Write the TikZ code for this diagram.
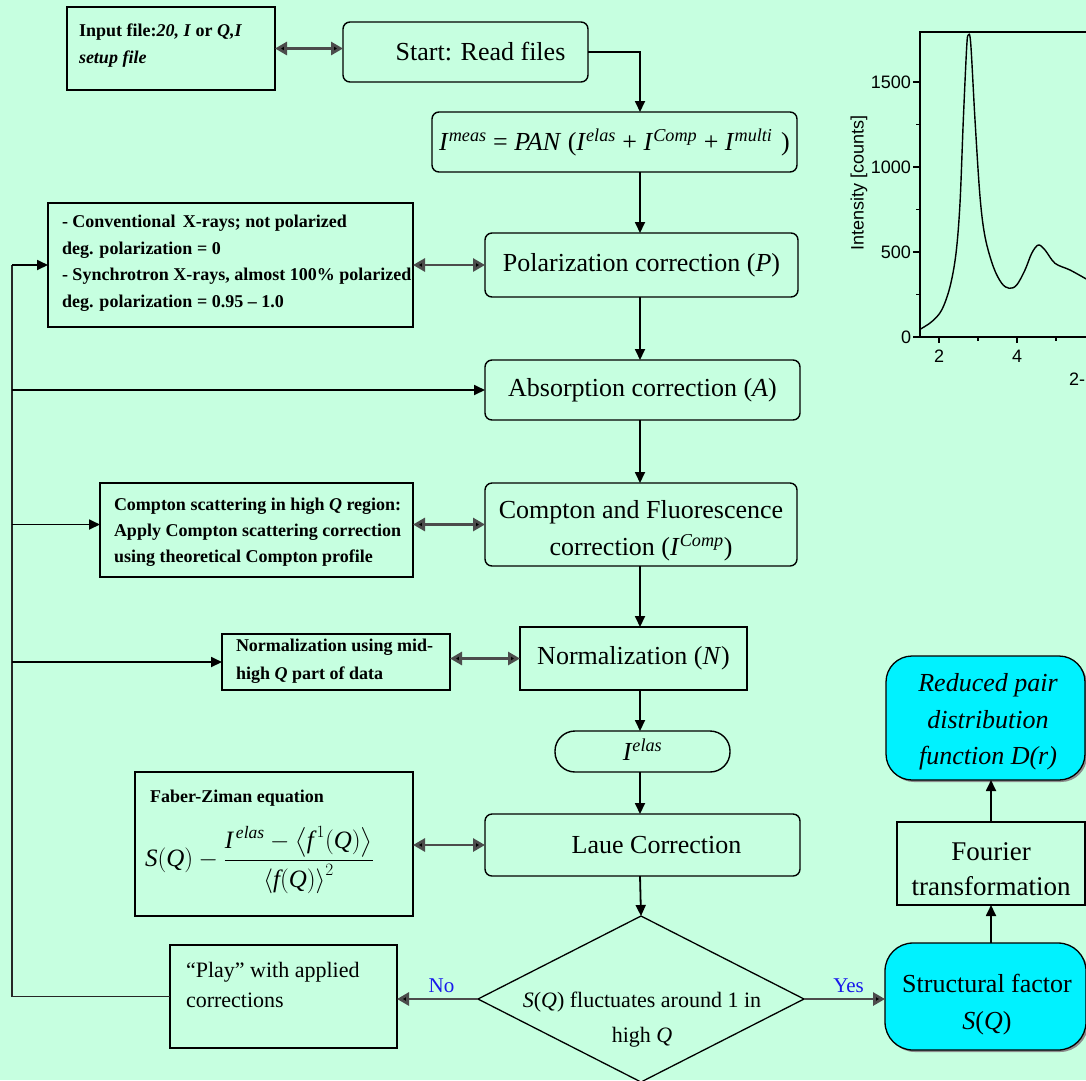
\documentclass[tikz,border=0pt]{standalone}
\usepackage{fontspec}
\setmainfont{Liberation Serif}
\newfontfamily\chartfont{Liberation Sans}
\usepackage{amsmath}
\usetikzlibrary{arrows.meta,shapes.geometric,shadows}
\definecolor{bgmint}{RGB}{198,255,224}
\definecolor{cyanbox}{RGB}{0,242,255}
\definecolor{labblue}{RGB}{25,25,235}
\newcommand\fsz[2]{\fontsize{#1}{#2}\selectfont}
\newcommand\Isup[1]{\textit{I}\textsuperscript{\textit{#1}}}
\begin{document}
\begin{tikzpicture}[x=1pt,y=-1pt,
  every node/.style={inner sep=0pt, outer sep=0pt},
  rbox/.style={draw=black, line width=1.4pt, rounded corners=7pt, font=\fsz{26}{32}},
  sbox/.style={draw=black, line width=1.8pt},
  notetxt/.style={anchor=north west, align=left, font=\fsz{18}{26.5}\bfseries},
  arr/.style={line width=1.8pt, draw=black, -{Triangle[length=11pt,width=10pt]}},
  darr/.style={line width=2.8pt, draw=black!70, {Triangle[length=12pt,width=13pt,fill=black]}-{Triangle[length=12pt,width=13pt,fill=black]}},
  sarr/.style={line width=2.8pt, draw=black!70, -{Triangle[length=12pt,width=13pt,fill=black]}},
  fb/.style={line width=1.8pt, draw=black!85},
  cyanshape/.style={draw=black, line width=1.3pt, fill=cyanbox, drop shadow={shadow xshift=2pt, shadow yshift=-2pt, fill=black!45, opacity=1}},
  lab/.style={text=labblue, font=\fsz{21}{24}}
]
\fill[bgmint] (0,0) rectangle (1086,1080);
\useasboundingbox (0,0) rectangle (1086,1080);

\coordinate (col) at (640,0);
\coordinate (fbx) at (12,0);

% ---------- chart ----------
\begin{scope}
\clip (840,0) rectangle (1086,400);
\draw[line width=1.2pt] (1095,32) -- (920,32) -- (920,337) -- (1095,337);
\foreach \yy in {82,167,252,337} \draw[line width=1.1pt] (920,\yy) -- (913,\yy);
\foreach \yy in {124.5,209.5,294.5} \draw[line width=1.1pt] (920,\yy) -- (916,\yy);
\foreach \xx in {939,1017} \draw[line width=1.1pt] (\xx,337) -- (\xx,343);
\foreach \xx in {978,1056} \draw[line width=1.1pt] (\xx,337) -- (\xx,341);
\node[anchor=east, font=\chartfont\fsz{18}{20}] (t1500) at (911,82) {1500};
\node[anchor=east, font=\chartfont\fsz{18}{20}] (t1000) at (911,167) {1000};
\node[anchor=east, font=\chartfont\fsz{18}{20}] (t500) at (911,252) {500};
\node[anchor=east, font=\chartfont\fsz{18}{20}] (t0) at (911,337) {0};
\node[font=\chartfont\fsz{18}{20}] (tx2) at (939,356) {2};
\node[font=\chartfont\fsz{18}{20}] (tx4) at (1017,356) {4};
\node[anchor=west, font=\chartfont\fsz{18}{20}] (xlab) at (1069,379) {2-};
\node[rotate=90, font=\chartfont\fsz{18}{20}] (ylab) at (859,183) {Intensity [counts]};
\draw[line width=1.4pt, line join=round] plot[smooth, tension=0.55] coordinates {
 (920,329.3) (931.7,321.7) (941.7,310) (950,286.7) (956,253.3) (960,203)
 (963.3,120) (966.7,46.7) (968.3,35) (970.7,43.3) (975,120) (980,196.7)
 (985,236.7) (993.3,266.7) (1001.7,283.3) (1009.3,288.3) (1016.7,285)
 (1025,270) (1031.7,253.3) (1038.3,245) (1045,250) (1055,263.3) (1070,270) (1088,280)};
\end{scope}

% ---------- main column ----------
\node[sbox, minimum width=208pt, minimum height=83pt] (inp) at (171,48.5) {};
\node[notetxt, font=\fsz{18}{27}\bfseries] (inptxt) at (79,23.5) {Input file:\textit{20, I} or \textit{Q,I}\\\textit{setup file}};

\node[rbox, minimum width=245pt, minimum height=60pt] (start) at (465.5,52) {\hspace*{30pt}Start: Read files};

\node[rbox, minimum width=365pt, minimum height=60pt] (formula) at (614.5,142)
 {\Isup{meas} = \textit{PAN} (\Isup{elas} + \Isup{Comp} + \Isup{multi}\,\,)};

\node[rbox, minimum width=313pt, minimum height=64pt] (pol) at (641.5,265) {Polarization correction (\textit{P})};
\node[sbox, minimum width=365pt, minimum height=124pt] (note1) at (230.5,265) {};
\node[notetxt] (note1txt) at (62,215.5) {- Conventional\, X-rays; not polarized\\deg. polarization = 0\\- Synchrotron X-rays, almost 100\% polarized\\deg. polarization = 0.95 -- 1.0};

\node[rbox, minimum width=315pt, minimum height=60pt] (abs) at (642.5,390) {Absorption correction (\textit{A})};

\node[rbox, minimum width=312pt, minimum height=83pt] (comp) at (641,524.5) {};
\node[align=center, font=\fsz{26}{37}] (comptxt) at (641,531) {Compton and Fluorescence\\correction (\Isup{Comp})};
\node[sbox, minimum width=313pt, minimum height=94pt] (cnote) at (256.5,530) {};
\node[notetxt, font=\fsz{18}{26}\bfseries] (cnotetxt) at (114,497.5) {Compton scattering in high \textit{Q} region:\\Apply Compton scattering correction\\using theoretical Compton profile};

\node[sbox, minimum width=227pt, minimum height=63pt, font=\fsz{26}{32}] (norm) at (633.5,658.5) {Normalization (\textit{N})};
\node[sbox, minimum width=228pt, minimum height=56pt] (nnote) at (336,662) {};
\node[notetxt, font=\fsz{18}{28}\bfseries] (nnotetxt) at (236,638.5) {Normalization using mid-\\high \textit{Q} part of data};

\node[draw=black, line width=1.4pt, rounded corners=20pt, minimum width=175pt, minimum height=41pt, font=\fsz{26}{30}] (ielas) at (642.5,751.5) {\raisebox{3pt}{\Isup{elas}}};

\node[rbox, minimum width=315pt, minimum height=62pt] (laue) at (642.5,845) {\hspace*{28pt}Laue Correction};
\node[sbox, minimum width=278pt, minimum height=144pt] (fz) at (274,844) {};
\node[notetxt] (fztitle) at (150,789.5) {Faber-Ziman equation};
\node[anchor=west, font=\fsz{25}{30}] (fzeq) at (145,860)
 {$\textit{S}(\textit{Q}) - \dfrac{\textit{I}^{\,\textit{elas}} - \left\langle \textit{f}^{\,1}(\textit{Q})\right\rangle}{\left\langle \textit{f}(\textit{Q})\right\rangle^{2}}$};

\node[diamond, draw=black, line width=1.3pt, minimum width=326pt, minimum height=166pt] (dia) at (641,999) {};
\node[align=center, font=\fsz{22}{35}] (diatxt) at (642,1020) {\textit{S}(\textit{Q}) fluctuates around 1 in\\high \textit{Q}};

\node[sbox, minimum width=227pt, minimum height=103pt] (play) at (283.5,996.5) {};
\node[anchor=north west, align=left, font=\fsz{22}{30}] (playtxt) at (186,962) {``Play'' with applied\\corrections};

\node[cyanshape, rounded corners=28pt, minimum width=201pt, minimum height=107pt] (struct) at (985.5,996.5) {};
\node[align=center, font=\fsz{26}{37}] (structtxt) at (987,1005) {Structural factor\\\textit{S}(\textit{Q})};
\node[sbox, fill=bgmint, minimum width=188pt, minimum height=83pt] (fourier) at (991,863.5) {};
\node[align=center, font=\fsz{27}{35}] (fouriertxt) at (991,869) {Fourier\\transformation};
\node[cyanshape, rounded corners=26pt, minimum width=199pt, minimum height=124pt] (reduced) at (985.5,718) {};
\node[align=center, font=\fsz{26}{36.5}\itshape] (reducedtxt) at (988,722) {Reduced pair\\distribution\\function \textit{D}(\textit{r})};

% ---------- connectors ----------
\draw[darr] (inp.east) -- (start.west |- inp.east);
\draw[arr] (start.east) -| (col |- formula.north);
\draw[arr] (col |- formula.south) -- (col |- pol.north);
\draw[darr] (note1.east) -- (pol.west |- note1.east);
\draw[arr] (col |- pol.south) -- (col |- abs.north);
\draw[arr] (col |- abs.south) -- (col |- comp.north);
\draw[darr] (cnote.east |- comp.west) -- (comp.west);
\draw[arr] (col |- comp.south) -- (col |- norm.north);
\draw[darr] (nnote.east |- norm.west) -- (norm.west);
\draw[arr] (col |- norm.south) -- (col |- ielas.north);
\draw[arr] (col |- ielas.south) -- (col |- laue.north);
\draw[darr] (fz.east |- laue.west) -- (laue.west);
\draw[arr] (col |- laue.south) -- (dia.north);
\draw[sarr] (dia.west) -- (play.east |- dia.west) node[lab, pos=0.45, above=6pt] (nolab) {No};
\draw[sarr] (dia.east) -- (struct.west |- dia.east) node[lab, pos=0.55, above=6pt] (yeslab) {Yes};
\draw[arr] (struct.north -| fourier.south) -- (fourier.south);
\draw[arr] (fourier.north) -- (fourier.north |- reduced.south);

% feedback loop
\draw[fb] (play.west) -- (fbx |- play.west) -- (fbx |- note1.west);
\draw[arr] (fbx |- note1.west) -- (note1.west);
\draw[arr] (fbx |- abs.west) -- (abs.west);
\draw[arr] (fbx |- comp.west) -- (cnote.west |- comp.west);
\draw[arr] (fbx |- nnote.west) -- (nnote.west);
\end{tikzpicture}
\end{document}
